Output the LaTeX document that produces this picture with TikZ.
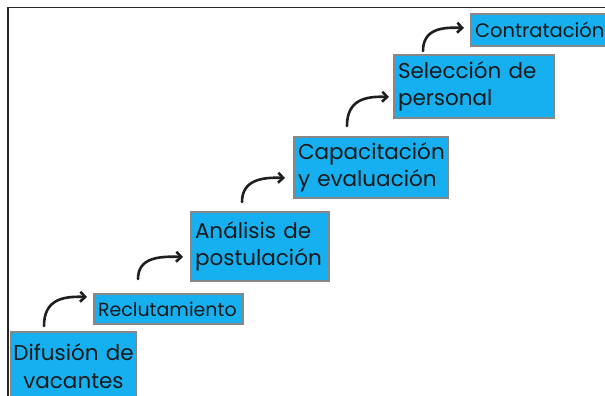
\documentclass[tikz,border=0pt]{standalone}
\usepackage{fontspec}
\setmainfont{Poppins}
\usetikzlibrary{arrows.meta}
\definecolor{boxblue}{RGB}{22,176,240}
\definecolor{boxedge}{RGB}{135,135,135}
\definecolor{txt}{RGB}{25,25,25}
\begin{document}
\begin{tikzpicture}[x=1pt,y=-1pt,
  stepbox/.style={draw=boxedge, line width=2pt, fill=boxblue, text=txt,
    inner xsep=4pt, inner ysep=0pt, anchor=north west, align=left,
    font=\fontsize{21.5}{27.5}\selectfont},
  curvearrow/.style={line width=2.6pt, color=black!88, line cap=round,
    -{Straight Barb[length=5pt,width=10pt,line width=2.6pt]}}]
\useasboundingbox (0,0) rectangle (605,396);
\clip (0,0) rectangle (605,396);
\draw[line width=1.6pt, color=black!85] (8,400) -- (8,7.5) -- (610,7.5);
% boxes
\node[stepbox, inner xsep=0pt, minimum width=125pt, minimum height=68pt, text width=125pt, align=center] (b1) at (10,331) {Difusión de\\vacantes};
\node[stepbox, minimum width=149pt, minimum height=30pt, text width=141pt, font=\fontsize{19}{21}\selectfont] (b2) at (93,293) {Reclutamiento};
\node[stepbox, minimum width=138pt, minimum height=69pt, text width=130pt] (b3) at (190,211) {Análisis de\\postulación};
\node[stepbox, minimum width=154pt, minimum height=61pt, text width=146pt] (b4) at (293,136) {Capacitación\\y evaluación};
\node[stepbox, minimum width=160pt, minimum height=63pt, text width=152pt] (b5) at (393,54) {Selección de\\personal};
\node[stepbox, minimum width=150pt, minimum height=32pt, text width=142pt, font=\fontsize{19.5}{22}\selectfont] (b6) at (470,13) {Contratación};
% arrow end points
\coordinate (s1) at (44,326);  \coordinate (e1) at (87,297);
\coordinate (s2) at (138,279); \coordinate (e2) at (183,257);
\coordinate (s3) at (242,202); \coordinate (e3) at (285,178);
\coordinate (s4) at (347,126); \coordinate (e4) at (389,97);
\coordinate (s5) at (423,51);  \coordinate (e5) at (464,28);
\draw[curvearrow] (s1) .. controls (44,300) and (62,296) .. (e1);
\draw[curvearrow] (s2) .. controls (138,258) and (158,256) .. (e2);
\draw[curvearrow] (s3) .. controls (242,180) and (262,177) .. (e3);
\draw[curvearrow] (s4) .. controls (347,100) and (365,96) .. (e4);
\draw[curvearrow] (s5) .. controls (423,29) and (442,27) .. (e5);
\end{tikzpicture}
\end{document}
